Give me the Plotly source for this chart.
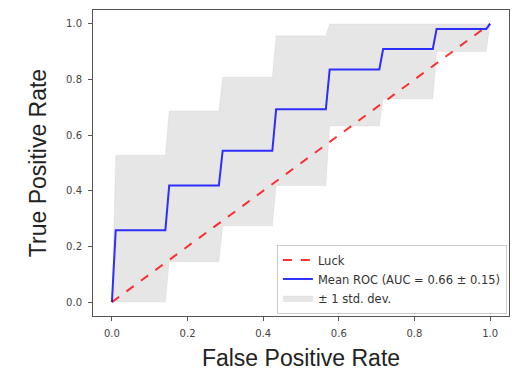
import plotly.graph_objects as go

# Mean ROC curve corners (false positive rate grid points)
mean_fpr = [0.0, 0.0101, 0.1414, 0.1515, 0.2828, 0.2929, 0.4242, 0.4343,
            0.5657, 0.5758, 0.7071, 0.7172, 0.8485, 0.8586, 0.9899, 1.0]
mean_tpr = [0.0, 0.258, 0.258, 0.419, 0.419, 0.544, 0.544, 0.693,
            0.693, 0.836, 0.836, 0.910, 0.910, 0.982, 0.982, 1.0]
tpr_upper = [0.0, 0.528, 0.528, 0.687, 0.687, 0.808, 0.808, 0.957,
             0.957, 1.0, 1.0, 1.0, 1.0, 1.0, 1.0, 1.0]
tpr_lower = [0.0, 0.0, 0.0, 0.145, 0.145, 0.274, 0.274, 0.419,
             0.419, 0.633, 0.633, 0.731, 0.731, 0.901, 0.901, 1.0]
luck_x = [0.0, 1.0]
luck_y = [0.0, 1.0]
tick_vals = [0.0, 0.2, 0.4, 0.6, 0.8, 1.0]
tick_text = ["0.0", "0.2", "0.4", "0.6", "0.8", "1.0"]
mean_auc = 0.66
std_auc = 0.15

fig = go.Figure()
fig.add_trace(go.Scatter(x=mean_fpr, y=tpr_lower, mode="lines",
                         line=dict(width=0.5, color="rgba(128,128,128,0.2)"),
                         showlegend=False, hoverinfo="skip"))
fig.add_trace(go.Scatter(x=mean_fpr, y=tpr_upper, mode="lines", fill="tonexty",
                         fillcolor="rgba(128,128,128,0.2)",
                         line=dict(width=0.5, color="rgba(128,128,128,0.2)"),
                         name="± 1 std. dev.", legendrank=3))
fig.add_trace(go.Scatter(x=luck_x, y=luck_y, mode="lines",
                         line=dict(color="rgba(255,0,0,0.8)", width=2, dash="dash"),
                         name="Luck", legendrank=1))
fig.add_trace(go.Scatter(x=mean_fpr, y=mean_tpr, mode="lines",
                         line=dict(color="rgba(0,0,255,0.8)", width=2),
                         name=f"Mean ROC (AUC = {mean_auc:.2f} ± {std_auc:.2f})",
                         legendrank=2))

axis_common = dict(range=[-0.05, 1.05], showgrid=False, zeroline=False,
                   showline=True, linecolor="#555", linewidth=1, mirror=True,
                   ticks="outside", ticklen=4, tickcolor="#555",
                   ticklabelstandoff=4, automargin=False,
                   tickvals=tick_vals, ticktext=tick_text,
                   tickfont=dict(family="DejaVu Sans", size=10, color="#444"))

fig.update_layout(
    width=512, height=371,
    margin=dict(l=93, r=3, t=10, b=55),
    paper_bgcolor="white", plot_bgcolor="white",
    xaxis=dict(**axis_common,
               title=dict(text="False Positive Rate", standoff=17,
                          font=dict(family="Liberation Sans", size=23, color="#222"))),
    yaxis=dict(**axis_common,
               title=dict(text="True Positive Rate", standoff=13,
                          font=dict(family="Liberation Sans", size=23, color="#222"))),
    legend=dict(x=0.995, y=0.008, xanchor="right", yanchor="bottom",
                bgcolor="rgba(255,255,255,0.8)", bordercolor="#cccccc", borderwidth=1,
                font=dict(family="DejaVu Sans", size=11.5, color="#333"),
                itemwidth=30, traceorder="normal"),
    showlegend=True,
)

fig.write_html("out.html", config={"displayModeBar": False},
               post_script="document.body.style.margin='0';document.body.style.padding='0';")
